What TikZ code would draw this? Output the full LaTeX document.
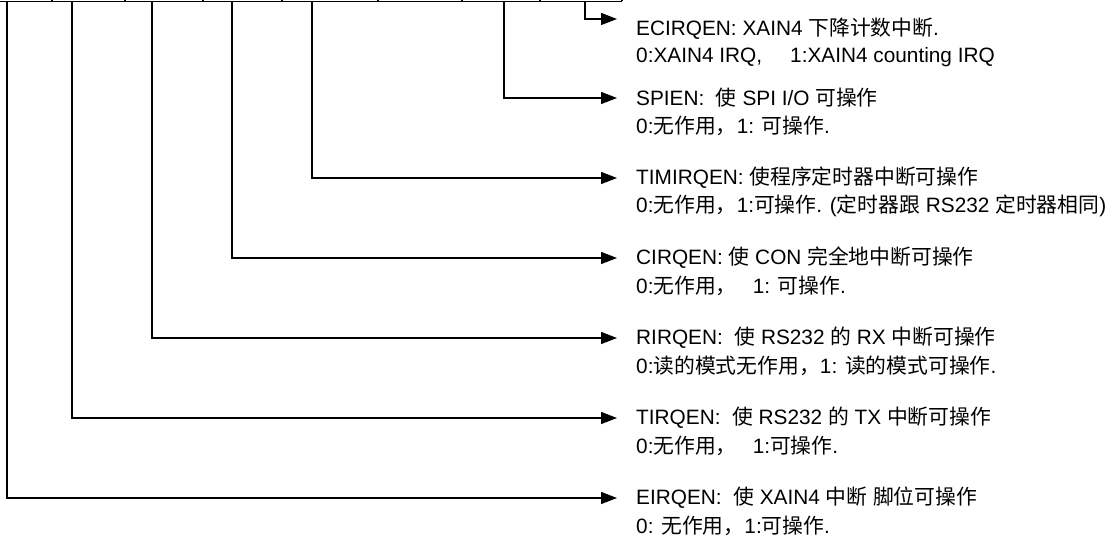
\documentclass[tikz,border=0pt]{standalone}
\usepackage{fontspec}
\setmainfont{Liberation Sans}
\newfontfamily\cjk{Noto Sans CJK SC}
\newcommand{\zh}[1]{{\cjk #1}}
\usepackage{tikz}
\usetikzlibrary{calc,arrows.meta,positioning}

\begin{document}
\begin{tikzpicture}[x=1pt,y=-1pt]

\tikzset{bitline/.style={line width=1.3pt,-{Triangle[length=16pt,width=12pt]},shorten >=19pt},
titlenode/.style={font=\fontsize{20.8}{25}\selectfont,inner sep=0pt,anchor=west},
descnode/.style={font=\fontsize{20.8}{25}\selectfont,inner sep=0pt,anchor=west}}

\useasboundingbox (0,0) rectangle (1117,540);

% Register cells (bottom edge)
\draw[line width=1.6pt] (0,1.5) -- (622,1.5);
\foreach \x in {52,125,203,282,378,462,540,622} \draw[line width=1.3pt] (\x,0) -- (\x,1.5); % cell edges

% Bit taps
\coordinate (ecBit) at (585,1.5);
\coordinate (spBit) at (504,1.5);
\coordinate (timBit) at (312,1.5);
\coordinate (ciBit) at (232,1.5);
\coordinate (riBit) at (152,1.5);
\coordinate (tiBit) at (72,1.5);
\coordinate (eiBit) at (7,1.5);

% Titles
\node[titlenode] (ecTitle) at (636,29) {ECIRQEN: XAIN4 \zh{下降计数中断}.};
\node[titlenode] (spTitle) at (636,98) {SPIEN:\ \ \zh{使} SPI I/O \zh{可操作}};
\node[titlenode] (timTitle) at (636,178) {TIMIRQEN: \zh{使程序定时器中断可操作}};
\node[titlenode] (ciTitle) at (636,258) {CIRQEN: \zh{使} CON \zh{完全地中断可操作}};
\node[titlenode] (riTitle) at (636,338) {RIRQEN:\ \ \zh{使} RS232 \zh{的} RX \zh{中断可操作}};
\node[titlenode] (tiTitle) at (636,418) {TIRQEN:\ \ \zh{使} RS232 \zh{的} TX \zh{中断可操作}};
\node[titlenode] (eiTitle) at (636,498) {EIRQEN:\ \ \zh{使} XAIN4 \zh{中断} \zh{脚位可操作}};

% Descriptions
\node[descnode] (ecDesc) at ($(ecTitle.west)+(0,28)$) {0:XAIN4 IRQ,\hspace{28pt}1:XAIN4 counting IRQ};
\node[descnode] (spDesc) at ($(spTitle.west)+(0,28)$) {0:\zh{无作用，}1: \zh{可操作}.};
\node[descnode] (timDesc) at ($(timTitle.west)+(0,28)$) {0:\zh{无作用，}1:\zh{可操作}. (\zh{定时器跟} RS232 \zh{定时器相同})};
\node[descnode] (ciDesc) at ($(ciTitle.west)+(0,28)$) {0:\zh{无作用，}\hspace{16pt}1: \zh{可操作}.};
\node[descnode] (riDesc) at ($(riTitle.west)+(0,28)$) {0:\zh{读的模式无作用，}1: \zh{读的模式可操作}.};
\node[descnode] (tiDesc) at ($(tiTitle.west)+(0,28)$) {0:\zh{无作用，}\hspace{16pt}1:\zh{可操作}.};
\node[descnode] (eiDesc) at ($(eiTitle.west)+(0,28)$) {0: \zh{无作用，}1:\zh{可操作}.};

% Connectors
\draw[bitline] (ecBit) |- ([yshift=10pt]ecTitle.west);
\draw[bitline] (spBit) |- (spTitle); \draw[bitline] (timBit) |- (timTitle); \draw[bitline] (ciBit) |- (ciTitle);
\draw[bitline] (riBit) |- (riTitle); \draw[bitline] (tiBit) |- (tiTitle); \draw[bitline] (eiBit) |- (eiTitle);

\end{tikzpicture}
\end{document}
